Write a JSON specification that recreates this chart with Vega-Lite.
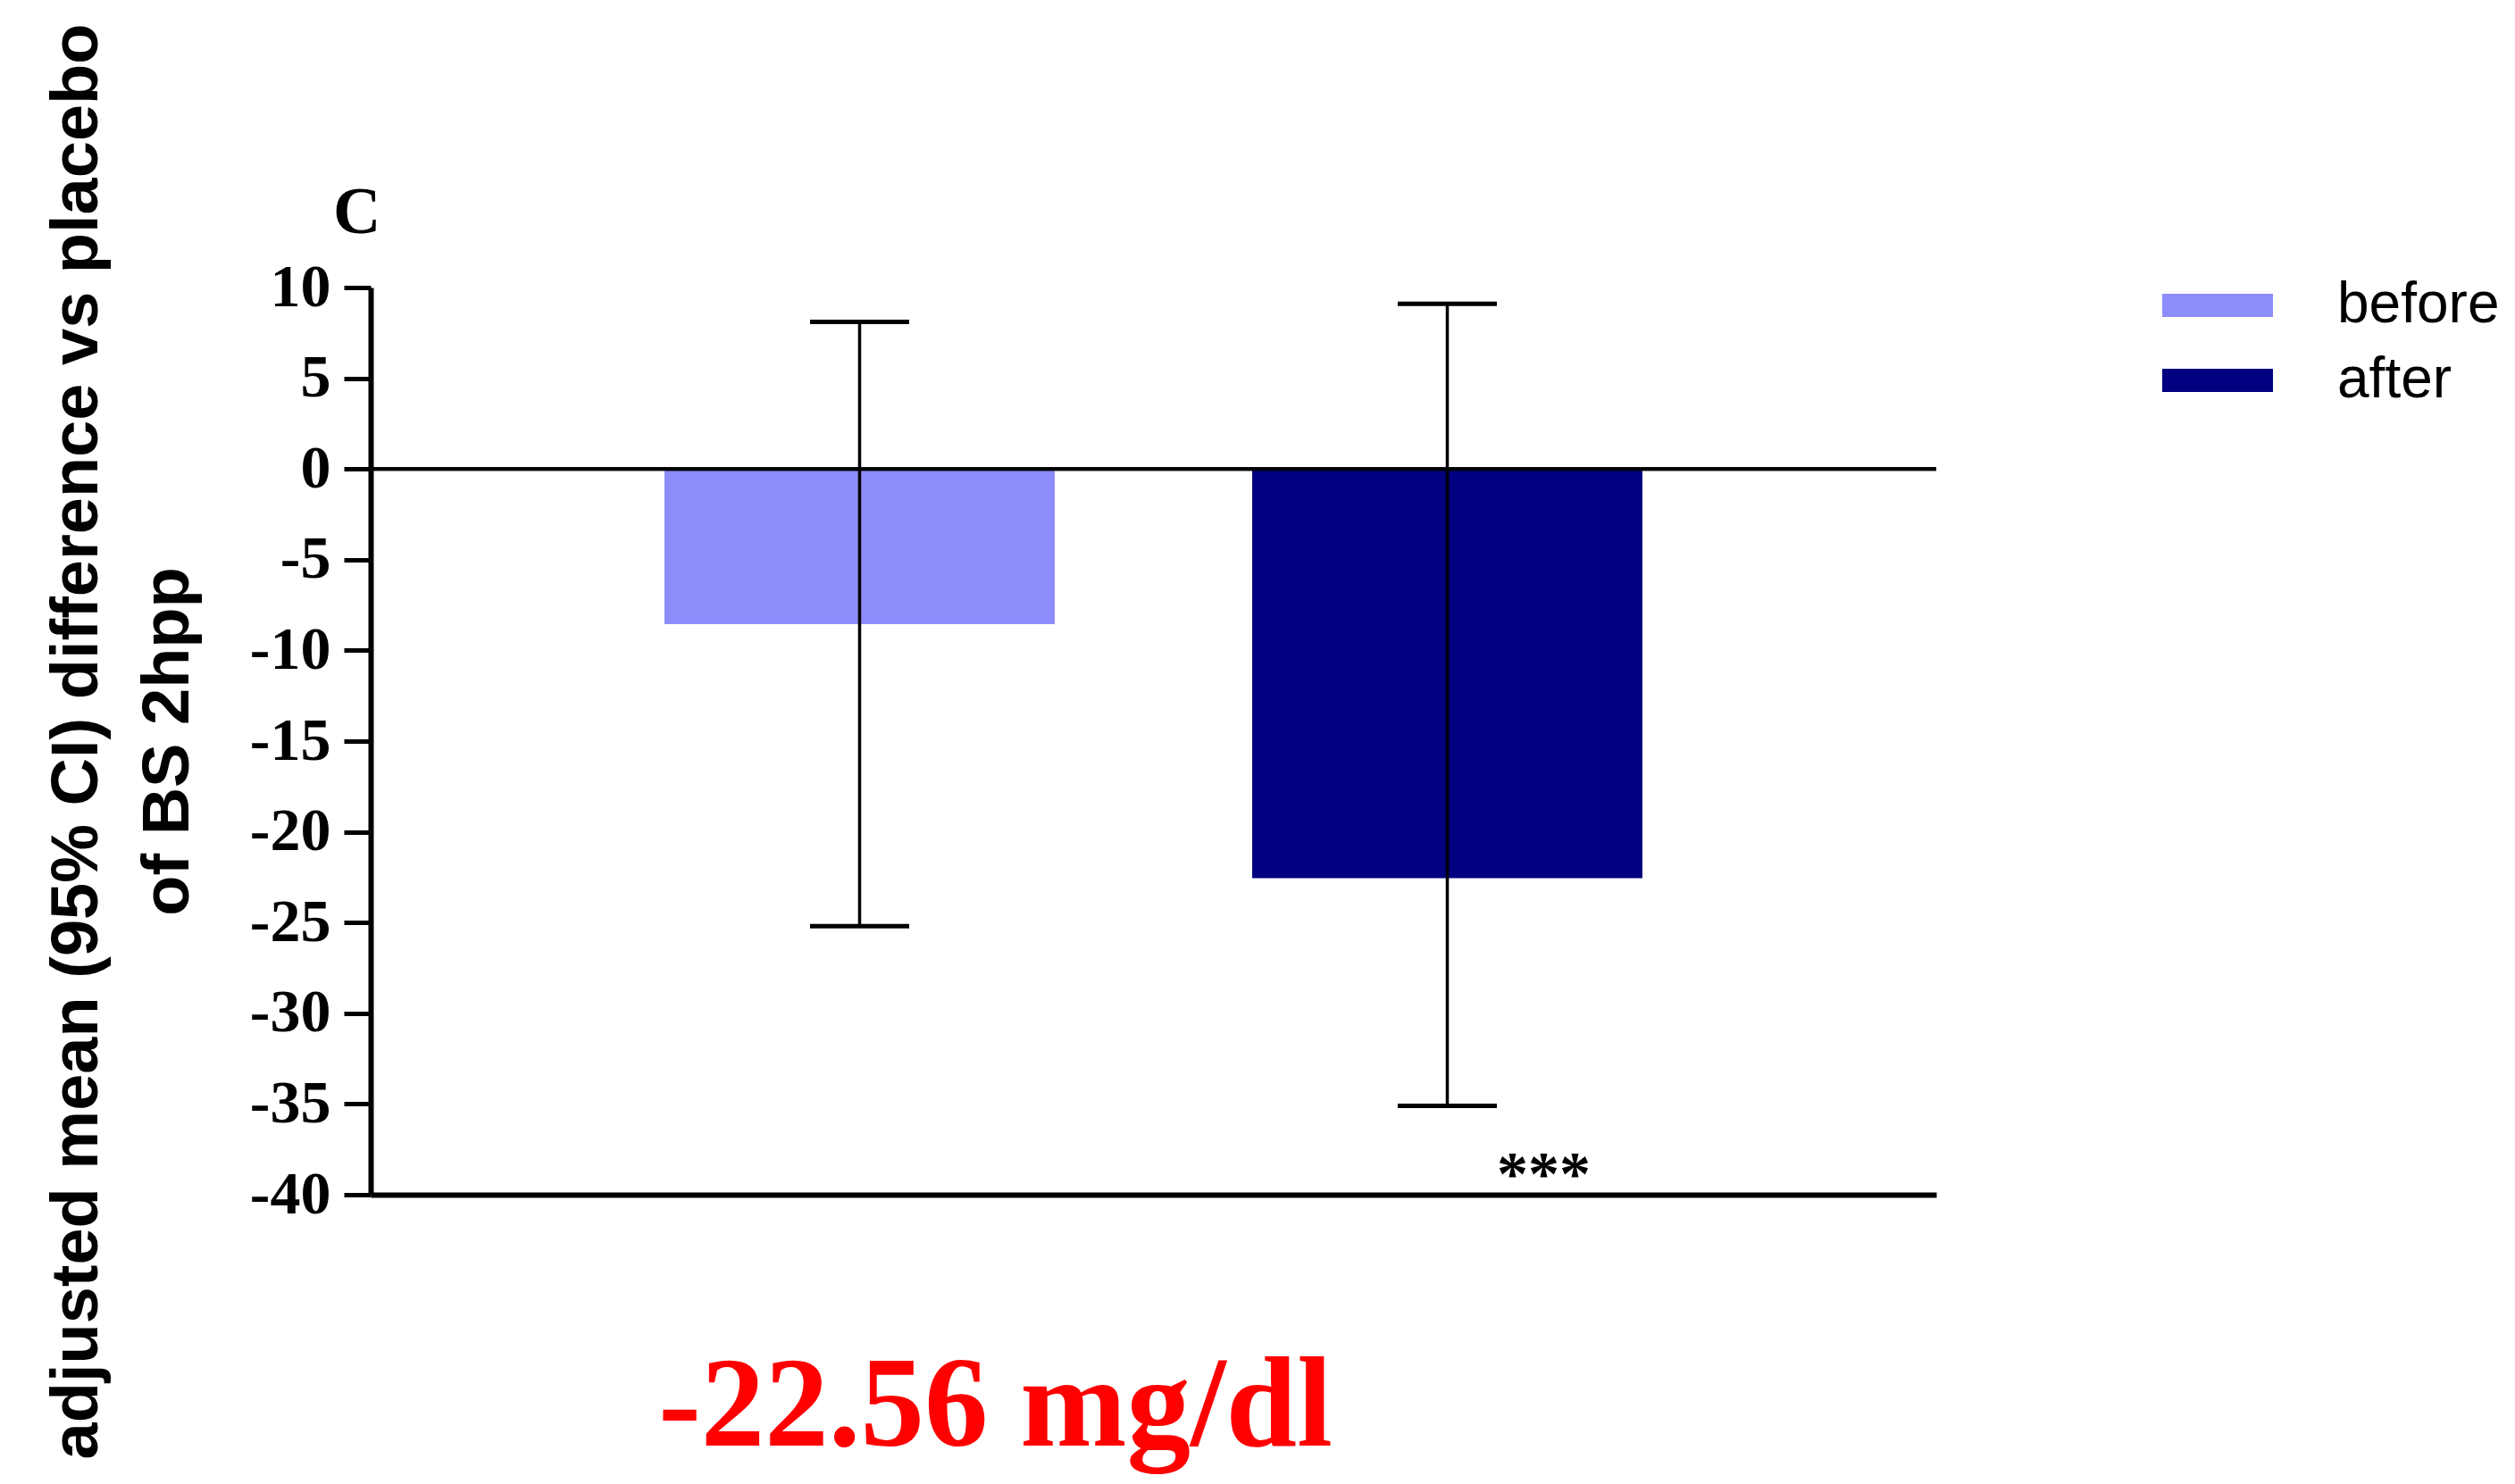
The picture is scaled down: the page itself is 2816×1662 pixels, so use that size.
{
  "$schema": "https://vega.github.io/schema/vega-lite/v6.json",
  "width": 1753,
  "height": 1016,
  "autosize": {"type": "none"},
  "padding": {"left": 415, "top": 322, "right": 648, "bottom": 324},
  "background": "white",
  "config": {"view": {"stroke": null}},
  "title": {
    "text": "C",
    "font": "Liberation Serif",
    "fontWeight": "bold",
    "fontSize": 74,
    "color": "black",
    "anchor": "start",
    "frame": "group",
    "dx": -42,
    "dy": 332,
    "baseline": "alphabetic",
    "offset": 23
  },
  "data": {
    "values": [
      {"group": "before", "mean": -8.55, "lo": -25.2, "hi": 8.1, "sig": ""},
      {"group": "after", "mean": -22.56, "lo": -35.1, "hi": 9.1, "sig": "***"}
    ]
  },
  "layer": [
    {
      "mark": {"type": "bar"},
      "encoding": {
        "x": {
          "field": "group",
          "type": "nominal",
          "sort": ["before", "after"],
          "scale": {"paddingInner": 0.336, "paddingOuter": 0.5},
          "axis": {
            "title": "-22.56 mg/dl",
            "titleFont": "Liberation Serif",
            "titleFontWeight": "bold",
            "titleFontSize": 143,
            "titleColor": "#FF0000",
            "titleX": 699,
            "titleY": 280,
            "titleBaseline": "alphabetic",
            "titleAlign": "center",
            "labels": false,
            "ticks": false,
            "grid": false,
            "domainColor": "black",
            "domainWidth": 6
          }
        },
        "y": {
          "field": "mean",
          "type": "quantitative",
          "scale": {"domain": [-40, 10], "nice": false, "zero": false},
          "axis": {
            "title": ["adjusted mean (95% CI) difference vs placebo", "of BS 2hpp"],
            "titleFont": "Liberation Sans",
            "titleFontWeight": "bold",
            "titleFontSize": 74,
            "titleLineHeight": 102,
            "titleColor": "black",
            "titleX": -329,
            "titleY": 508,
            "titleAngle": 270,
            "titleBaseline": "middle",
            "titleAlign": "center",
            "values": [-40, -35, -30, -25, -20, -15, -10, -5, 0, 5, 10],
            "labelExpr": "'' + datum.value",
            "labelFont": "Liberation Serif",
            "labelFontWeight": "bold",
            "labelFontSize": 68,
            "labelColor": "black",
            "labelPadding": 15,
            "tickSize": 30,
            "tickWidth": 5,
            "tickColor": "black",
            "domainColor": "black",
            "domainWidth": 6,
            "grid": false
          }
        },
        "y2": {"datum": 0},
        "color": {
          "field": "group",
          "type": "nominal",
          "scale": {"domain": ["before", "after"], "range": ["#8C8CFA", "#000080"]},
          "legend": {
            "title": null,
            "orient": "none",
            "legendX": 2006,
            "legendY": -12,
            "padding": 0,
            "symbolType": "M-1,-0.21H1V0.21H-1Z",
            "symbolSize": 15376,
            "symbolStrokeWidth": 0,
            "symbolOpacity": 1,
            "labelFont": "Liberation Sans",
            "labelFontSize": 64,
            "labelColor": "black",
            "labelOffset": 72,
            "labelLimit": 500,
            "rowPadding": 20,
            "clipHeight": 64
          }
        }
      }
    },
    {
      "mark": {"type": "rule", "color": "black", "strokeWidth": 4},
      "encoding": {"y": {"datum": 0, "type": "quantitative"}}
    },
    {
      "mark": {"type": "rule", "color": "black", "strokeWidth": 3.5},
      "encoding": {
        "x": {"field": "group", "type": "nominal", "sort": ["before", "after"]},
        "y": {"field": "lo", "type": "quantitative"},
        "y2": {"field": "hi"}
      }
    },
    {
      "mark": {"type": "tick", "color": "black", "size": 111, "thickness": 5, "orient": "horizontal", "opacity": 1},
      "encoding": {
        "x": {"field": "group", "type": "nominal", "sort": ["before", "after"]},
        "y": {"field": "lo", "type": "quantitative"}
      }
    },
    {
      "mark": {"type": "tick", "color": "black", "size": 111, "thickness": 5, "orient": "horizontal", "opacity": 1},
      "encoding": {
        "x": {"field": "group", "type": "nominal", "sort": ["before", "after"]},
        "y": {"field": "hi", "type": "quantitative"}
      }
    },
    {
      "mark": {
        "type": "text",
        "dx": 108,
        "dy": 79,
        "font": "Liberation Serif",
        "fontWeight": "bold",
        "fontSize": 70,
        "letterSpacing": 10,
        "baseline": "middle",
        "color": "black"
      },
      "encoding": {
        "x": {"field": "group", "type": "nominal", "sort": ["before", "after"]},
        "y": {"field": "lo", "type": "quantitative"},
        "text": {"field": "sig"}
      }
    }
  ]
}
